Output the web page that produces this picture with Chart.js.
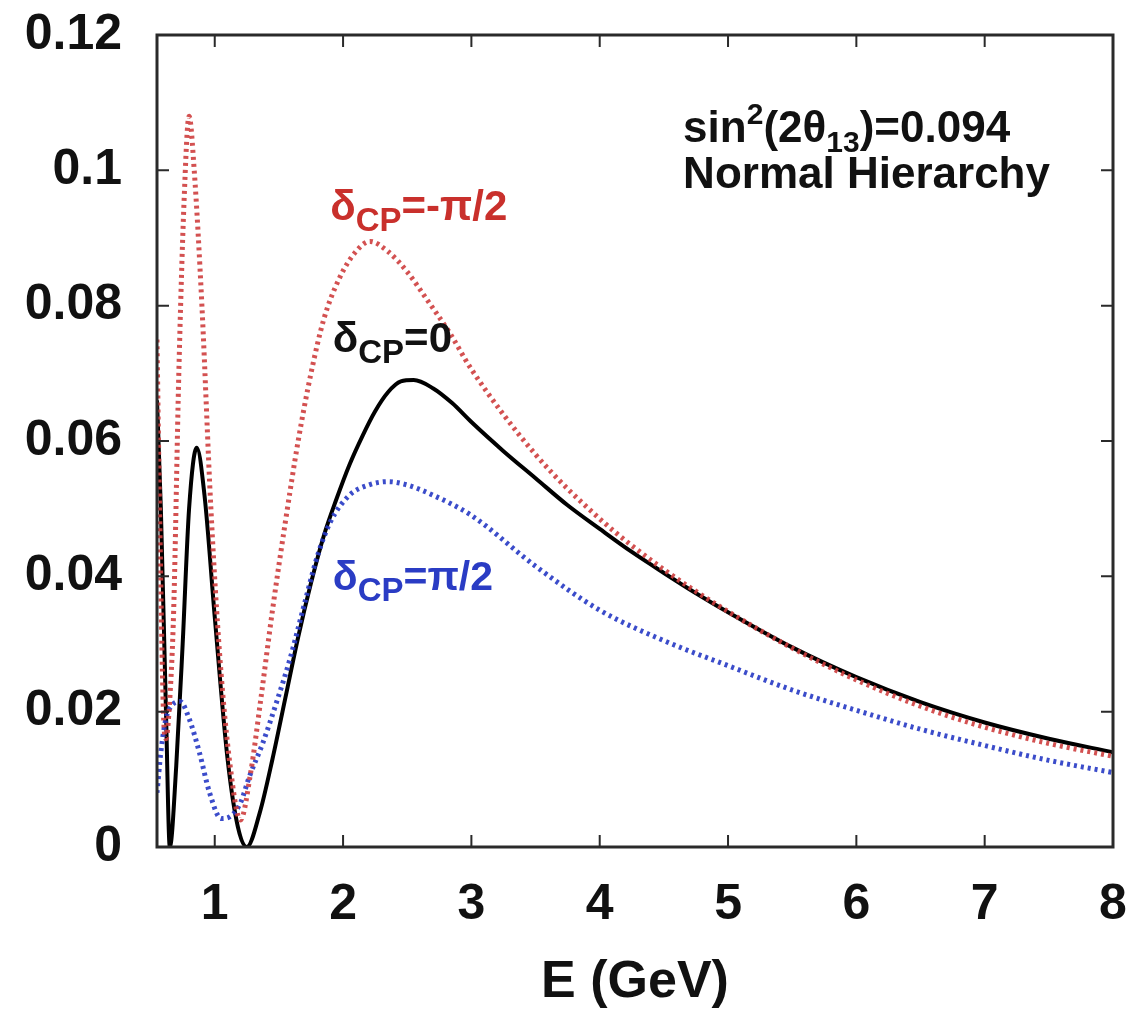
<!DOCTYPE html>
<html>
<head>
<meta charset="utf-8">
<script src="https://cdn.jsdelivr.net/npm/chart.js@4.4.1/dist/chart.umd.min.js"></script>
<style>
  html, body { margin: 0; padding: 0; background: #fff; }
  #wrap { width: 1138px; height: 1014px; }
</style>
</head>
<body>
<div id="wrap"><canvas id="prob_chart"></canvas></div>
<script>
// values: energy (GeV) and appearance probability, per delta_CP
const energyZero = [0.55, 0.58, 0.62, 0.65, 0.70, 0.75, 0.80, 0.86, 0.92, 1.00, 1.10, 1.18, 1.25, 1.35, 1.45, 1.55, 1.65, 1.75, 1.85, 1.95, 2.05, 2.15, 2.25, 2.35, 2.45, 2.55, 2.70, 2.85, 3.00, 3.25, 3.50, 3.75, 4.00, 4.25, 4.50, 4.75, 5.00, 5.50, 6.00, 6.50, 7.00, 7.50, 8.00];
const probZero   = [0.066, 0.050, 0.020, 0.000, 0.012, 0.030, 0.050, 0.059, 0.052, 0.034, 0.013, 0.003, 0.000, 0.005, 0.013, 0.022, 0.031, 0.039, 0.046, 0.0515, 0.0565, 0.0607, 0.0644, 0.0672, 0.0688, 0.0690, 0.0678, 0.0656, 0.0628, 0.0585, 0.0545, 0.0505, 0.047, 0.0436, 0.0405, 0.0375, 0.0347, 0.0295, 0.0251, 0.0214, 0.0184, 0.016, 0.014];

const energyMinus = [0.55, 0.57, 0.60, 0.62, 0.65, 0.68, 0.72, 0.76, 0.80, 0.84, 0.90, 0.97, 1.04, 1.12, 1.20, 1.28, 1.36, 1.45, 1.55, 1.65, 1.75, 1.85, 1.97, 2.10, 2.21, 2.35, 2.50, 2.65, 2.83, 3.00, 3.50, 4.00, 4.50, 5.00, 5.50, 6.00, 6.50, 7.00, 7.50, 8.00];
const probMinus   = [0.075, 0.050, 0.020, 0.016, 0.022, 0.035, 0.070, 0.095, 0.108, 0.100, 0.080, 0.050, 0.028, 0.012, 0.004, 0.011, 0.022, 0.035, 0.048, 0.060, 0.070, 0.078, 0.084, 0.088, 0.0895, 0.088, 0.085, 0.081, 0.076, 0.0706, 0.058, 0.0485, 0.041, 0.0348, 0.0294, 0.0247, 0.0208, 0.0177, 0.0153, 0.0134];

const energyPlus = [0.55, 0.58, 0.62, 0.67, 0.73, 0.80, 0.88, 0.96, 1.05, 1.12, 1.20, 1.27, 1.375, 1.48, 1.585, 1.70, 1.80, 1.90, 2.05, 2.20, 2.35, 2.50, 2.70, 3.00, 3.50, 4.00, 4.50, 5.00, 5.50, 6.00, 6.50, 7.00, 7.50, 8.00];
const probPlus   = [0.008, 0.014, 0.019, 0.021, 0.0215, 0.019, 0.014, 0.008, 0.0042, 0.0045, 0.0065, 0.0104, 0.0154, 0.0213, 0.0277, 0.036, 0.043, 0.048, 0.052, 0.0535, 0.054, 0.0535, 0.052, 0.049, 0.0415, 0.035, 0.0305, 0.0268, 0.0232, 0.0202, 0.0174, 0.015, 0.0128, 0.011];

const xTicks = [1, 2, 3, 4, 5, 6, 7, 8];
const yTicks = [0, 0.02, 0.04, 0.06, 0.08, 0.1, 0.12];
const yTickLabels = ['0', '0.02', '0.04', '0.06', '0.08', '0.1', '0.12'];

const FONT = '"Liberation Sans", Arial, sans-serif';

function to_points(xs, ys) {
    return xs.map((x, i) => ({ x: x, y: ys[i] }));
}

// write a label made of pieces (sub/superscripts) left to right
function draw_rich(ctx, x, y, parts, color) {
    ctx.fillStyle = color;
    ctx.textBaseline = 'alphabetic';
    ctx.textAlign = 'left';
    parts.forEach(p => {
        ctx.font = 'bold ' + p.size + 'px ' + FONT;
        ctx.fillText(p.t, x, y + (p.dy || 0));
        x += ctx.measureText(p.t).width;
    });
}

function no_overflow(scale) {
    scale.paddingTop = 0;
    scale.paddingBottom = 0;
    scale.paddingLeft = 0;
    scale.paddingRight = 0;
}

const framePlugin = {
    id: 'frame',
    afterDatasetsDraw(chart) {
        const { ctx, chartArea: a, scales } = chart;
        const sx = scales.x, sy = scales.y;
        ctx.save();
        ctx.strokeStyle = '#2a2a2a';
        ctx.lineWidth = 2;
        ctx.beginPath();
        xTicks.forEach(v => {
            const px = sx.getPixelForValue(v);
            ctx.moveTo(px, a.bottom); ctx.lineTo(px, a.bottom - 12);
            ctx.moveTo(px, a.top); ctx.lineTo(px, a.top + 12);
        });
        yTicks.forEach(v => {
            const py = sy.getPixelForValue(v);
            ctx.moveTo(a.left, py); ctx.lineTo(a.left + 12, py);
            ctx.moveTo(a.right, py); ctx.lineTo(a.right - 12, py);
        });
        ctx.stroke();
        ctx.lineWidth = 3;
        ctx.strokeRect(a.left, a.top, a.right - a.left, a.bottom - a.top);

        // curve labels and the parameter note
        const px = v => sx.getPixelForValue(v);
        const py = v => sy.getPixelForValue(v);
        draw_rich(ctx, px(1.9), py(0.0926), [
            { t: 'δ', size: 42 }, { t: 'CP', size: 33, dy: 11 }, { t: '=-π/2', size: 42 }
        ], '#c9302c');
        draw_rich(ctx, px(1.92), py(0.0731), [
            { t: 'δ', size: 42 }, { t: 'CP', size: 33, dy: 11 }, { t: '=0', size: 42 }
        ], '#111');
        draw_rich(ctx, px(1.92), py(0.038), [
            { t: 'δ', size: 41 }, { t: 'CP', size: 33, dy: 11 }, { t: '=π/2', size: 41 }
        ], '#2a3cc4');
        draw_rich(ctx, px(4.65), py(0.1042), [
            { t: 'sin', size: 44 }, { t: '2', size: 30, dy: -18 }, { t: '(2θ', size: 44 },
            { t: '13', size: 30, dy: 10 }, { t: ')=0.094', size: 44 }
        ], '#111');
        draw_rich(ctx, px(4.65), py(0.0974), [{ t: 'Normal Hierarchy', size: 44 }], '#111');
        ctx.restore();
    }
};

const ctx = document.getElementById('prob_chart').getContext('2d');
window.probChart = new Chart(ctx, {
    type: 'line',
    data: {
        datasets: [
            {
                label: 'dCP=-pi/2',
                data: to_points(energyMinus, probMinus),
                borderColor: 'rgba(206,62,62,0.9)',
                borderWidth: 5,
                borderDash: [3, 4],
                cubicInterpolationMode: 'monotone',
                pointRadius: 0,
                fill: false
            },
            {
                label: 'dCP=pi/2',
                data: to_points(energyPlus, probPlus),
                borderColor: 'rgba(38,56,196,0.9)',
                borderWidth: 5,
                borderDash: [3, 4],
                cubicInterpolationMode: 'monotone',
                pointRadius: 0,
                fill: false
            },
            {
                label: 'dCP=0',
                data: to_points(energyZero, probZero),
                borderColor: '#000',
                borderWidth: 4,
                cubicInterpolationMode: 'monotone',
                pointRadius: 0,
                fill: false
            }
        ]
    },
    options: {
        responsive: true,
        maintainAspectRatio: false,
        animation: false,
        layout: { padding: { left: 0, right: 25, top: 35, bottom: 0 } },
        plugins: {
            legend: { display: false },
            tooltip: { enabled: false }
        },
        scales: {
            x: {
                type: 'linear',
                min: 0.55,
                max: 8,
                afterBuildTicks: scale => { scale.ticks = xTicks.map(v => ({ value: v })); },
                afterFit: scale => { scale.height = 167; no_overflow(scale); },
                grid: { display: false, drawTicks: false },
                border: { display: false },
                ticks: {
                    padding: 28,
                    color: '#111',
                    font: { family: FONT, size: 50, weight: 'bold' }
                },
                title: {
                    display: true,
                    text: 'E (GeV)',
                    color: '#111',
                    padding: { top: 0, bottom: 0 },
                    font: { family: FONT, size: 52, weight: 'bold' }
                }
            },
            y: {
                min: 0,
                max: 0.12,
                afterBuildTicks: scale => { scale.ticks = yTicks.map(v => ({ value: v })); },
                afterFit: scale => { scale.width = 157; no_overflow(scale); },
                grid: { display: false, drawTicks: false },
                border: { display: false },
                ticks: {
                    padding: 35,
                    color: '#111',
                    font: { family: FONT, size: 50, weight: 'bold' },
                    callback: (value, index) => yTickLabels[index]
                }
            }
        }
    },
    plugins: [framePlugin]
});
</script>
</body>
</html>
